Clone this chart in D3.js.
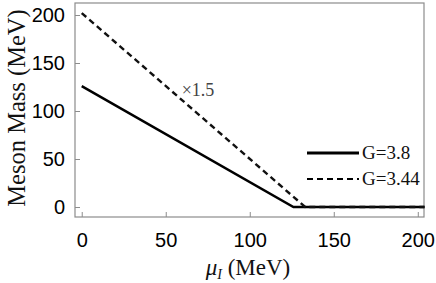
<!DOCTYPE html>
<html>
<head>
<meta charset="utf-8">
<script src="https://cdn.jsdelivr.net/npm/d3@7"></script>
<style>
  body { margin: 0; background: #fff; }
  svg { display: block; }
</style>
</head>
<body>
<div id="chart"></div>
<script>
// series
const solidX = [0, 126, 204];
const solidY = [126, 0, 0];
const dashX = [0, 133, 204];
const dashY = [202, 0, 0];
const xTicks = [0, 50, 100, 150, 200];
const yTicks = [0, 50, 100, 150, 200];
const legendLabels = ["G=3.8", "G=3.44"];

const W = 436, H = 283;
const frame = {left: 75, top: 3, right: 424, bottom: 217};

const x = d3.scaleLinear().domain([-4, 203.7]).range([frame.left, frame.right]);
const y = d3.scaleLinear().domain([-10.4, 212.5]).range([frame.bottom, frame.top]);

const svg = d3.select("#chart").append("svg")
  .attr("width", W)
  .attr("height", H);

// frame
svg.append("rect")
  .attr("x", frame.left).attr("y", frame.top)
  .attr("width", frame.right - frame.left)
  .attr("height", frame.bottom - frame.top)
  .attr("fill", "none")
  .attr("stroke", "#8c8c8c")
  .attr("stroke-width", 1.2);

// axes (inward ticks)
const xAxis = svg.append("g")
  .attr("transform", `translate(0,${frame.bottom})`)
  .call(d3.axisBottom(x).tickValues(xTicks).tickSizeInner(-5).tickSizeOuter(0).tickPadding(16));
const yAxis = svg.append("g")
  .attr("transform", `translate(${frame.left},0)`)
  .call(d3.axisLeft(y).tickValues(yTicks).tickSizeInner(-5).tickSizeOuter(0).tickPadding(10));

[xAxis, yAxis].forEach(g => {
  g.select(".domain").remove();
  g.selectAll(".tick line").attr("stroke", "#8c8c8c");
  g.selectAll(".tick text")
    .attr("fill", "#000")
    .style("font-family", "'Liberation Sans', Arial, sans-serif")
    .style("font-size", "20px");
});

const line = d3.line()
  .x(d => x(d[0]))
  .y(d => y(d[1]));

svg.append("path")
  .datum(solidX.map((v, i) => [v, solidY[i]]))
  .attr("d", line)
  .attr("fill", "none")
  .attr("stroke", "#000")
  .attr("stroke-width", 2.5);

svg.append("path")
  .datum(dashX.map((v, i) => [v, dashY[i]]))
  .attr("d", line)
  .attr("fill", "none")
  .attr("stroke", "#111")
  .attr("stroke-width", 2.4)
  .attr("stroke-dasharray", "6,4");

// annotation
svg.append("text")
  .attr("x", x(59.5))
  .attr("y", y(116))
  .attr("fill", "#444")
  .style("font-family", "'Liberation Serif', 'Times New Roman', serif")
  .style("font-size", "18px")
  .text("\u00d71.5");

// legend
const legend = svg.append("g");
legendLabels.forEach((lab, i) => {
  const ly = 153 + i * 26;
  legend.append("line")
    .attr("x1", 307).attr("x2", 359)
    .attr("y1", ly).attr("y2", ly)
    .attr("stroke", "#000")
    .attr("stroke-width", i === 0 ? 2.8 : 2.2)
    .attr("stroke-dasharray", i === 0 ? null : "6,4");
  legend.append("text")
    .attr("x", 362)
    .attr("y", ly + 6)
    .attr("fill", "#111")
    .style("font-family", "'Liberation Serif', 'Times New Roman', serif")
    .style("font-size", "19px")
    .text(lab);
});

// axis titles
const xt = svg.append("text")
  .attr("x", 248)
  .attr("y", 275)
  .attr("text-anchor", "middle")
  .attr("fill", "#111")
  .style("font-family", "'Liberation Serif', 'Times New Roman', serif")
  .style("font-size", "23px");
xt.append("tspan").style("font-style", "italic").text("\u03bc");
xt.append("tspan").style("font-style", "italic").style("font-size", "14px").attr("dy", 4).text("I");
xt.append("tspan").attr("dy", -4).text(" (MeV)");

svg.append("text")
  .attr("transform", `translate(25,108) rotate(-90)`)
  .attr("text-anchor", "middle")
  .attr("fill", "#111")
  .style("font-family", "'Liberation Serif', 'Times New Roman', serif")
  .style("font-size", "24.5px")
  .text("Meson Mass (MeV)");
</script>
</body>
</html>
